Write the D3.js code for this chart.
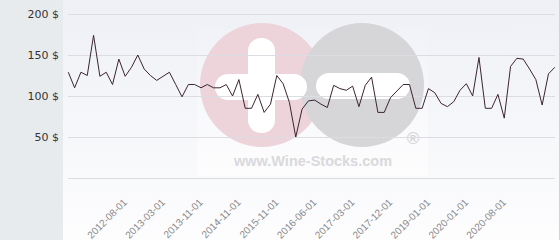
<!DOCTYPE html>
<html>
<head>
<meta charset="utf-8">
<script src="https://cdn.jsdelivr.net/npm/d3@7"></script>
<style>
html,body{margin:0;padding:0;background:#fff;}
svg{display:block;}
</style>
</head>
<body>
<svg id="chart" width="560" height="240"></svg>
<script>
const categories = [
"2011-09-01","2011-10-01","2011-11-01","2011-12-01","2012-01-01","2012-02-01","2012-04-01","2012-05-01","2012-07-01","2012-08-01",
"2012-09-01","2012-10-01","2012-11-01","2013-01-01","2013-02-01","2013-03-01","2013-04-01","2013-06-01","2013-07-01","2013-09-01",
"2013-10-01","2013-11-01","2014-01-01","2014-03-01","2014-05-01","2014-07-01","2014-09-01","2014-11-01","2015-01-01","2015-03-01",
"2015-05-01","2015-07-01","2015-09-01","2015-11-01","2016-01-01","2016-02-01","2016-03-01","2016-04-01","2016-05-01","2016-06-01",
"2016-08-01","2016-09-01","2016-10-01","2016-12-01","2017-01-01","2017-03-01","2017-04-01","2017-06-01","2017-08-01","2017-09-01",
"2017-11-01","2017-12-01","2018-02-01","2018-04-01","2018-06-01","2018-09-01","2018-11-01","2019-01-01","2019-03-01","2019-05-01",
"2019-07-01","2019-09-01","2019-11-01","2020-01-01","2020-02-01","2020-03-01","2020-04-01","2020-05-01","2020-07-01","2020-08-01",
"2020-09-01","2020-10-01","2020-11-01","2020-12-01","2021-01-01","2021-02-01","2021-03-01","2021-04-01"
];
const prices = [
129,110,129,125,174,124,129,114,145,124,
135,150,133,125,119,124,129,114,99,114,
114,110,114,110,110,114,100,120,85,85,
102,80,90,125,115,92,50,84,94,95,
90,86,113,109,107,112,87,113,123,80,
80,98,106,114,114,85,85,109,104,91,
87,93,107,115,100,147,85,85,102,73,
136,146,145,133,120,89,127,135
];
const xTickLabels = ["2012-08-01","2013-03-01","2013-11-01","2014-11-01","2015-11-01","2016-06-01","2017-03-01","2017-12-01","2019-01-01","2020-01-01","2020-08-01"];
const yTicks = [50,100,150,200];
const yGrid = [0,50,100,150,200];

const svg = d3.select("#chart");
const W = 560, H = 240;

// backgrounds
const defs = svg.append("defs");
const grad = defs.append("linearGradient").attr("id","bg").attr("x1",0).attr("y1",0).attr("x2",0).attr("y2",1);
grad.append("stop").attr("offset","0%").attr("stop-color","#eef0f5");
grad.append("stop").attr("offset","100%").attr("stop-color","#fdfdfe");
svg.append("rect").attr("x",0).attr("y",0).attr("width",W).attr("height",H).attr("fill","url(#bg)");
svg.append("rect").attr("x",0).attr("y",0).attr("width",63).attr("height",H).attr("fill","#e7ebee");
svg.append("line").attr("x1",559.5).attr("x2",559.5).attr("y1",0).attr("y2",H).attr("stroke","#d0d3d8");

const x = d3.scalePoint().domain(categories).range([68.3, 554.8]);
const y = d3.scaleLinear().domain([0,200]).range([178,14]);

// watermark
const wm = svg.append("g");
const wgrad = defs.append("linearGradient").attr("id","wbg").attr("x1",0).attr("y1",0).attr("x2",0).attr("y2",1);
wgrad.append("stop").attr("offset","0%").attr("stop-color","#ffffff").attr("stop-opacity",0);
wgrad.append("stop").attr("offset","100%").attr("stop-color","#ffffff").attr("stop-opacity",0.6);
wm.append("rect").attr("x",197).attr("y",20).attr("width",231).attr("height",156).attr("fill","url(#wbg)");
wm.append("circle").attr("cx",262).attr("cy",85).attr("r",62).attr("fill","#ecd4da");
wm.append("circle").attr("cx",362).attr("cy",85).attr("r",62).attr("fill","#d6d6d8");
wm.append("rect").attr("x",248).attr("y",38).attr("width",27).attr("height",95).attr("rx",13).attr("fill","#ffffff");
wm.append("rect").attr("x",215).attr("y",74).attr("width",92).attr("height",26).attr("rx",13).attr("fill","#ffffff");
wm.append("rect").attr("x",316).attr("y",73).attr("width",94).attr("height",26).attr("rx",13).attr("fill","#ffffff");
wm.append("text").attr("x",313).attr("y",166).attr("text-anchor","middle")
  .attr("font-family","Liberation Sans, Arial, sans-serif").attr("font-weight","bold").attr("font-size",14.5)
  .attr("fill","#d9d9db").text("www.Wine-Stocks.com");
wm.append("text").attr("x",413).attr("y",144).attr("text-anchor","middle")
  .attr("font-family","Liberation Sans, Arial, sans-serif").attr("font-weight","bold").attr("font-size",17)
  .attr("fill","#d6d6d8").text("®");

// grid
svg.append("g").selectAll("line").data(yGrid).join("line")
  .attr("x1",68).attr("x2",555)
  .attr("y1",d=>Math.round(y(d))+0.5).attr("y2",d=>Math.round(y(d))+0.5)
  .attr("stroke","#dcdde2").attr("stroke-width",1);

// y axis labels
const yAxis = d3.axisLeft(y).tickValues(yTicks).tickFormat(d=>d+" $").tickSize(0).tickPadding(0);
const yg = svg.append("g").attr("transform","translate(59,0)").call(yAxis);
yg.select(".domain").remove();
yg.selectAll("text").attr("font-family","DejaVu Sans, sans-serif").attr("font-size",11).attr("fill","#333");

// x axis labels
const xAxis = d3.axisBottom(x).tickValues(xTickLabels).tickSize(0).tickPadding(0);
const xg = svg.append("g").attr("transform","translate(0,178)").call(xAxis);
xg.select(".domain").remove();
xg.selectAll("text")
  .attr("font-family","Liberation Sans, Arial, sans-serif").attr("font-size",10).attr("fill","#8a8a8a")
  .attr("text-anchor","end").attr("dy",null).attr("y",null)
  .attr("transform","translate(2,25) rotate(-45)");

// line
const line = d3.line().x((d,i)=>x(categories[i])).y(d=>y(d));
svg.append("path").datum(prices).attr("d",line)
  .attr("fill","none").attr("stroke","#3b2430").attr("stroke-width",1).attr("stroke-linejoin","miter");
</script>
</body>
</html>
